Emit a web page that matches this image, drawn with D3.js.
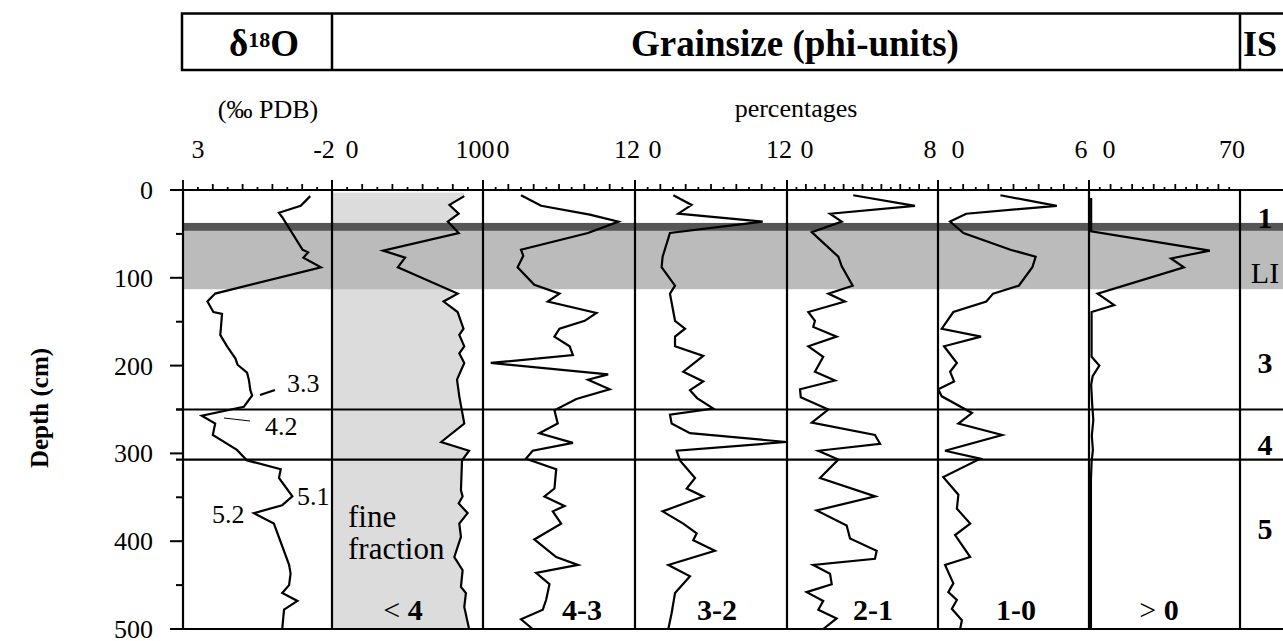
<!DOCTYPE html>
<html><head><meta charset="utf-8">
<script src="https://cdn.jsdelivr.net/npm/d3@7"></script>
<style>
body{margin:0;background:#fff}
svg{display:block}
text{font-family:"Liberation Serif","Times New Roman",serif;fill:#000}
</style>
</head><body><svg id="c" width="1283" height="641" font-family="Liberation Serif, Times New Roman, serif"></svg>
<script>
// ---------- data (depth in cm) ----------
const d18oDepth = [7,18,26,31,68,71,77,88,118,127,139,141,158,165,178,192,199,208,216,228,234,247,257,266,279,296,308,318,328,349,359,368,380,427,437,450,459,468,478,500];
const d18oValue = [-1.27,-0.95,-0.22,-0.33,-1.01,-1.2,-1.04,-1.63,1.92,2.18,1.98,1.69,1.73,1.75,1.52,1.24,1.17,0.85,0.79,0.74,0.68,0.96,2.37,1.92,2.0,1.19,0.85,-0.28,-0.22,-0.67,-0.33,0.62,-0.05,-0.56,-0.61,-0.56,-0.33,-0.84,-0.39,-0.33];

const fineDepth = [7,17,27,36,49,69,77,88,118,127,139,158,165,178,186,197,216,235,266,287,297,308,342,349,357,368,380,395,418,433,452,459,475,500];
const fineValue = [87.6,77.8,83.9,76.7,83.9,33.8,48.4,43.6,83.2,73.9,83.2,87.1,84.3,87.6,84.3,87.6,82.8,84.3,87.6,72.3,90.8,86.1,85.4,86.5,83.9,89.8,84.3,85.4,81,86.5,85.4,88.7,87.6,90.8];

const p43Depth = [6,18,28,36,49,68,75,88,108,118,127,140,149,158,167,178,188,197,210,216,227,238,251,266,277,288,297,306,318,340,349,360,366,380,398,418,427,436,449,467,478,489,500];
const p43Value = [3.0,4.59,8.43,10.7,8.29,3.0,3.18,2.73,4.05,6.04,5.11,8.96,8.03,6.04,5.64,6.84,7.1,0.61,9.88,8.29,10.0,7.37,5.64,5.9,4.45,7.1,3.92,3.39,5.78,5.64,4.85,6.44,5.51,6.17,4.05,5.78,7.5,4.19,5.25,4.98,4.72,3.0,3.92];

const p32Depth = [6,17,27,36,49,76,88,109,118,149,158,167,178,189,207,218,228,237,249,256,266,277,287,297,308,328,340,349,366,380,391,399,411,427,440,459,482,500];
const p32Value = [3.03,4.47,3.42,10.08,2.76,2.18,2.1,3.16,2.76,3.16,3.95,3.16,3.16,5.39,3.81,5.39,4.34,4.9,6.18,2.76,2.89,4.34,11.97,3.29,3.55,4.74,4.08,5.39,2.18,3.81,4.87,4.6,6.31,2.63,4.34,3.16,2.89,2.63];

const p21Depth = [6,18,27,36,48,76,87,109,118,127,139,149,156,167,178,190,207,217,227,236,250,265,279,289,297,307,328,349,365,382,397,411,420,427,437,449,458,468,478,488,500];
const p21Value = [3.51,6.78,2.28,2.9,1.31,2.72,2.9,3.48,2.19,3.07,1.13,1.48,1.39,2.63,1.13,1.92,1.48,2.54,0.69,0.73,2.19,1.31,4.66,4.93,1.66,2.72,1.75,4.68,1.57,3.16,3.34,4.75,4.66,1.39,2.28,2.37,1.04,1.92,1.66,2.63,1.92];

const p10Depth = [6,18,27,36,49,68,76,88,109,118,127,139,158,167,178,197,207,218,227,235,254,266,279,297,306,327,347,363,380,393,418,427,448,458,467,477,490,500];
const p10Value = [2.48,4.72,1.12,0.48,1.01,2.88,3.88,3.75,3.21,2.19,1.92,0.61,0.15,1.71,0.24,0.75,0.48,0.64,0.01,0.15,1.35,0.81,2.55,0.28,1.68,0.21,0.81,0.75,1.28,0.68,1.28,0.28,0.61,0.41,0.75,0.55,0.95,0.88];

const p0Depth = [9,47,69,78,88,118,131,139,190,200,212,222,245,262,280,296,310,330,500];
const p0Value = [1.0,1.0,56,38,44,4,11.7,1.2,1.2,4.8,1.7,1.0,1.5,2.0,1.3,1.8,1.2,0.9,0.9];

const panelDomains = [[3,-2],[0,100],[0,12],[0,12],[0,8],[0,6],[0,70]];
const panelLowLabels = ["3","0","0","0","0","0","0"];
const panelHighLabels = ["-2","100","12","12","8","6","70"];
const panelTickSteps = [0.5,10,1,1,0.5,0.5,5];
const panelNames = [null,["<"," 4"],["4-3"],["3-2"],["2-1"],["1-0"],[">"," 0"]];
const depthTicks = [0,100,200,300,400,500];
const depthMinor = [50,150,250,350,450];
const stageBounds = [250,307];
const isoLabels = [{t:"1",d:32,b:true},{t:"LI",d:95,b:false},{t:"3",d:197,b:true},{t:"4",d:290,b:true},{t:"5",d:386,b:true}];
const mis = [{t:"3.3"},{t:"4.2"},{t:"5.1"},{t:"5.2"}];

const series = [
  [d18oDepth,d18oValue],[fineDepth,fineValue],[p43Depth,p43Value],[p32Depth,p32Value],
  [p21Depth,p21Value],[p10Depth,p10Value],[p0Depth,p0Value]
];

// ---------- layout ----------
const edges = [183,332,483,635,787,938,1089,1240];
const RIGHT = 1283;
const svg = d3.select("#c");
const y = d3.scaleLinear().domain([0,500]).range([190,629]);
const xs = panelDomains.map((dom,i)=>d3.scaleLinear().domain(dom).range([edges[i],edges[i+1]]));

// fine fraction fill
const fineData = fineDepth.map((d,i)=>({d, v:fineValue[i]}));
svg.append("path")
  .datum(fineData)
  .attr("fill","#dcdcdc")
  .attr("d", d3.area().y(p=>y(p.d)).x0(xs[1](0)+1).x1(p=>xs[1](p.v)));
svg.append("rect").attr("x",xs[1](0)).attr("y",y(3)).attr("width",xs[1](fineValue[0])-xs[1](0)).attr("height",y(fineDepth[0])-y(3)).attr("fill","#dcdcdc");

// bands
svg.append("rect").attr("x",edges[0]).attr("y",y(46.5)).attr("width",RIGHT-edges[0]).attr("height",y(113)-y(46.5)).attr("fill","#bbbbbb");
svg.append("rect").attr("x",edges[0]).attr("y",y(37.5)).attr("width",RIGHT-edges[0]).attr("height",y(46.5)-y(37.5)).attr("fill","#555555");

// stage boundaries
svg.selectAll(".stage").data(stageBounds).enter().append("line")
  .attr("x1",176).attr("x2",RIGHT).attr("y1",d=>y(d)).attr("y2",d=>y(d))
  .attr("stroke","#000").attr("stroke-width",2.2);

// panel verticals
svg.selectAll(".pv").data(edges).enter().append("line")
  .attr("x1",d=>d).attr("x2",d=>d).attr("y1",y(0)).attr("y2",y(500))
  .attr("stroke","#000").attr("stroke-width",2.2);

// top and bottom lines
[0,500].forEach(d=>{
  svg.append("line").attr("x1",170).attr("x2",RIGHT).attr("y1",y(d)).attr("y2",y(d))
    .attr("stroke","#000").attr("stroke-width",2.2);
});

// curves
const line = d3.line();
series.forEach(([dep,val],i)=>{
  const pts = dep.map((d,k)=>[xs[i](val[k]), y(d)]);
  svg.append("path").attr("d",line(pts)).attr("fill","none")
    .attr("stroke","#000").attr("stroke-width",2.2).attr("stroke-linejoin","miter");
});

// top ticks
panelDomains.forEach((dom,i)=>{
  const lo=Math.min(dom[0],dom[1]), hi=Math.max(dom[0],dom[1]), st=panelTickSteps[i];
  const n=Math.round((hi-lo)/st);
  for(let k=0;k<=n;k++){
    const v=lo+k*st;
    if(i===panelDomains.length-1 && k===n) continue;
    const px = xs[i](v);
    const isEdge = Math.abs(px-edges[i])<0.5 || Math.abs(px-edges[i+1])<0.5;
    const len = isEdge?10:(k%2===0?6:3);
    svg.append("line").attr("x1",px).attr("x2",px).attr("y1",y(0)).attr("y2",y(0)-len)
      .attr("stroke","#000").attr("stroke-width",1.8);
  }
  svg.append("text").attr("x",edges[i]+(i===0?15:20)).attr("y",158).attr("text-anchor","middle")
    .attr("font-size",26).text(panelLowLabels[i]);
  svg.append("text").attr("x",edges[i+1]-8).attr("y",158).attr("text-anchor","middle")
    .attr("font-size",26).text(panelHighLabels[i]);
});

// left depth axis
depthTicks.forEach(d=>{
  svg.append("line").attr("x1",170).attr("x2",edges[0]).attr("y1",y(d)).attr("y2",y(d)).attr("stroke","#000").attr("stroke-width",2);
  svg.append("text").attr("x",153).attr("y",y(d)+9).attr("text-anchor","end").attr("font-size",26).text(d);
});
depthMinor.forEach(d=>{
  svg.append("line").attr("x1",176).attr("x2",edges[0]).attr("y1",y(d)).attr("y2",y(d)).attr("stroke","#000").attr("stroke-width",2);
});
svg.append("text").attr("transform","translate(48,408) rotate(-90)").attr("text-anchor","middle")
  .attr("font-size",25).attr("font-weight","bold").text("Depth (cm)");

// header box
svg.append("rect").attr("x",182).attr("y",13.5).attr("width",1300-182).attr("height",56.5)
  .attr("fill","none").attr("stroke","#000").attr("stroke-width",2.5);
[332,1240].forEach(xv=>svg.append("line").attr("x1",xv).attr("x2",xv).attr("y1",13.5).attr("y2",70).attr("stroke","#000").attr("stroke-width",2.5));
const h1 = svg.append("text").attr("x",264).attr("y",56).attr("text-anchor","middle").attr("font-size",37).attr("font-weight","bold");
h1.append("tspan").text("δ");
h1.append("tspan").attr("font-size",22).attr("dy",-9).text("18");
h1.append("tspan").attr("dy",9).text("O");
svg.append("text").attr("x",795).attr("y",56).attr("text-anchor","middle").attr("font-size",37).attr("font-weight","bold").text("Grainsize (phi-units)");
svg.append("text").attr("x",1243).attr("y",56).attr("font-size",36).attr("font-weight","bold").text("IS");

// axis titles
svg.append("text").attr("x",268).attr("y",118).attr("text-anchor","middle").attr("font-size",26).text("(‰ PDB)");
svg.append("text").attr("x",796).attr("y",117).attr("text-anchor","middle").attr("font-size",26).text("percentages");

// panel name labels
const nameX = [null,403,582,717,873,1016,1159];
panelNames.forEach((nm,i)=>{
  if(!nm) return;
  const t = svg.append("text").attr("x",nameX[i]).attr("y",620).attr("text-anchor","middle").attr("font-size",30);
  if(nm.length===2){
    t.append("tspan").text(nm[0]);
    t.append("tspan").attr("font-weight","bold").text(nm[1]);
  } else {
    t.attr("font-weight","bold").text(nm[0]);
  }
});

// fine fraction note
const ff = svg.append("text").attr("x",348).attr("y",527).attr("font-size",31);
ff.append("tspan").attr("x",348).text("fine");
ff.append("tspan").attr("x",348).attr("dy",32).text("fraction");

// isotope stage labels
isoLabels.forEach(o=>{
  svg.append("text").attr("x",1265).attr("y",y(o.d)+10).attr("text-anchor","middle")
    .attr("font-size",30).attr("font-weight",o.b?"bold":"normal").text(o.t);
});

// MIS annotations on the d18O curve
const misPos = [[287,392],[265,435],[297,505],[212,523]];
mis.forEach((m,i)=>{
  svg.append("text").attr("x",misPos[i][0]).attr("y",misPos[i][1]).attr("font-size",26).text(m.t);
});
svg.append("line").attr("x1",260).attr("y1",395).attr("x2",275).attr("y2",390).attr("stroke","#000").attr("stroke-width",2.2);
svg.append("line").attr("x1",224).attr("y1",418).attr("x2",250).attr("y2",421).attr("stroke","#000").attr("stroke-width",1);
</script>
</body></html>
